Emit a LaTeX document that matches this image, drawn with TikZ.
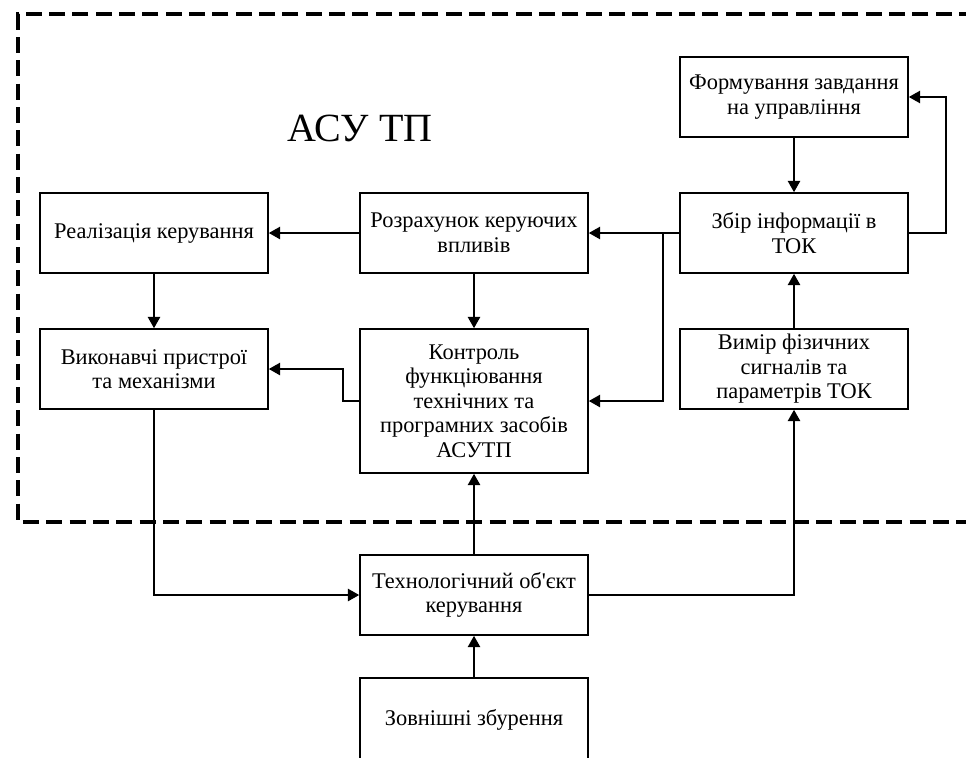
\documentclass[tikz,border=0pt]{standalone}
\usepackage{fontspec}
\setmainfont{Liberation Serif}[Ligatures=TeXOff]
\usetikzlibrary{arrows.meta}
\begin{document}
\begin{tikzpicture}[x=0.75pt,y=-0.75pt,
  box/.style={draw, line width=1.1pt, minimum width=171pt, minimum height=60pt,
    align=center, inner sep=2pt, font=\fontsize{16.8}{18.4}\selectfont},
  conn/.style={line width=1.8pt, -{Triangle[length=8.5pt,width=9pt]}},
  frame/.style={line width=2.6pt, dash pattern=on 12pt off 5.5pt}]
\useasboundingbox (0,0) rectangle (966,757);
\clip (0,0) rectangle (966,757);

\draw[frame] (975,14) -- (18,14) -- (18,522) -- (975,522);

\node (title) at (360,128) {\fontsize{30}{32}\selectfont АСУ ТП};

\node[box] (form)  at (794,97)  {Формування завдання\\на управління};
\node[box] (zbir)  at (794,233) {Збір інформації в\\ТОК};
\node[box] (rozr)  at (474,233) {Розрахунок керуючих\\впливів};
\node[box] (real)  at (154,233) {Реалізація керування};
\node[box] (vyk)   at (154,369) {Виконавчі пристрої\\та механізми};
\node[box, minimum height=108pt] (kontr) at (474,401)
  {Контроль\\функціювання\\технічних та\\програмних засобів\\АСУТП};
\node[box] (vymir) at (794,369) {Вимір фізичних\\сигналів та\\параметрів ТОК};
\node[box] (tech)  at (474,595) {Технологічний об'єкт\\керування};
\node[box, minimum height=63pt] (zovn) at (474,720) {Зовнішні збурення};

\coordinate (z1) at (946,233);
\coordinate (z2) at (946,97);
\coordinate (br) at (663,233);
\coordinate (k1) at (343,401);
\coordinate (k2) at (343,369);
\coordinate (v1) at (154,595);
\coordinate (t1) at (794,595);

\draw[conn] (form.south) -- (zbir.north);
\draw[conn] (zbir.east) -- (z1) -- (z2) -- (form.east);
\draw[conn] (zbir.west) -- (rozr.east);
\draw[conn] (br) |- (kontr.east);
\draw[conn] (rozr.west) -- (real.east);
\draw[conn] (real.south) -- (vyk.north);
\draw[conn] (rozr.south) -- (kontr.north);
\draw[conn] (kontr.west) -- (k1) -- (k2) -- (vyk.east);
\draw[conn] (vymir.north) -- (zbir.south);
\draw[conn] (tech.east) -- (t1) -- (vymir.south);
\draw[conn] (vyk.south) -- (v1) -- (tech.west);
\draw[conn] (tech.north) -- (kontr.south);
\draw[conn] (zovn.north) -- (tech.south);
\end{tikzpicture}
\end{document}
